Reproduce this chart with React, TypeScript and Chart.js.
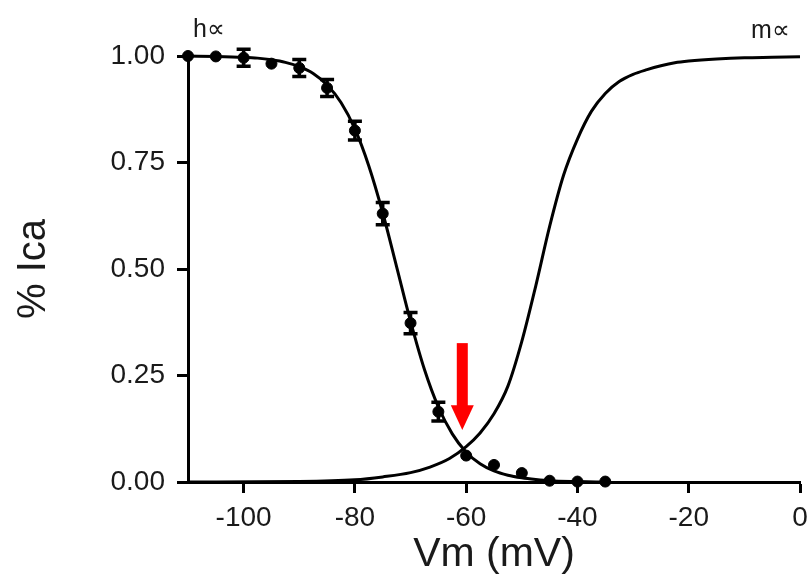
import React, { useEffect, useRef } from "react";
import { Chart, registerables } from "chart.js";

Chart.register(...registerables);

// Measured h∞ data points (Vm in mV, fraction of Ica, ± error)
const hPointV = [-110, -105, -100, -95, -90, -85, -80, -75, -70, -65, -60, -55, -50, -45, -40, -35];
const hPointY = [1.0, 0.999, 0.996, 0.982, 0.972, 0.925, 0.825, 0.63, 0.373, 0.165, 0.062, 0.04, 0.021, 0.003, 0.001, 0.001];
const hPointErr = [0, 0, 0.02, 0, 0.02, 0.02, 0.022, 0.026, 0.025, 0.022, 0, 0, 0, 0, 0, 0];

// h∞ fitted curve
const hCurveV = [-110, -105, -100, -97.5, -95, -92.5, -90, -87.5, -85, -82.5, -80, -77.5, -75, -72.5, -70, -67.5, -65, -62.5, -60, -57.5, -55, -52.5, -50, -47.5, -45, -40, -35];
const hCurveY = [1.0, 0.999, 0.997, 0.995, 0.991, 0.985, 0.975, 0.959, 0.932, 0.891, 0.829, 0.742, 0.632, 0.505, 0.377, 0.264, 0.176, 0.113, 0.07, 0.043, 0.026, 0.016, 0.01, 0.006, 0.003, 0.001, 0.0];

// m∞ curve
const mCurveV = [-110, -90, -80, -75, -70, -66.5, -63, -60, -57.5, -55, -52.5, -50, -47.5, -45, -42.5, -40, -37.5, -35, -32.5, -30, -27.5, -25, -22.5, -20, -15, -10, -5, 0];
const mCurveY = [0.0, 0.001, 0.005, 0.012, 0.022, 0.035, 0.055, 0.083, 0.115, 0.16, 0.225, 0.33, 0.46, 0.6, 0.72, 0.805, 0.87, 0.912, 0.94, 0.957, 0.968, 0.977, 0.984, 0.988, 0.993, 0.996, 0.997, 0.998];

// Axis ranges and ticks
const xMin = -110;
const xMax = 0;
const xStep = 20;
const yMin = 0;
const yMax = 1;
const yStep = 0.25;

// Annotations
const hLabel = "h\u221D";
const hLabelPos = [-109.1, 1.045];
const mLabel = "m\u221D";
const mLabelPos = [-8.8, 1.042];
const arrowX = -60.7;
const arrowTop = 0.326;
const arrowHeadBase = 0.18;
const arrowTip = 0.122;

const FONT = "'Liberation Sans', Arial, sans-serif";

export default function App() {
  const ref = useRef<HTMLCanvasElement | null>(null);

  useEffect(() => {
    if (!ref.current) return;

    const errorBars = {
      id: "errorBars",
      afterDatasetsDraw(chart: any) {
        const ctx = chart.ctx;
        const xs = chart.scales.x;
        const ys = chart.scales.y;
        ctx.save();
        ctx.strokeStyle = "#000";
        ctx.lineWidth = 3.5;
        hPointV.forEach((v, i) => {
          const e = hPointErr[i];
          if (!e) return;
          const px = xs.getPixelForValue(v);
          const y1 = ys.getPixelForValue(hPointY[i] + e);
          const y2 = ys.getPixelForValue(hPointY[i] - e);
          ctx.beginPath();
          ctx.moveTo(px, y1);
          ctx.lineTo(px, y2);
          ctx.moveTo(px - 7, y1);
          ctx.lineTo(px + 7, y1);
          ctx.moveTo(px - 7, y2);
          ctx.lineTo(px + 7, y2);
          ctx.stroke();
        });
        // labels
        ctx.fillStyle = "#1a1a1a";
        ctx.font = `25px ${FONT}`;
        ctx.textAlign = "left";
        ctx.textBaseline = "alphabetic";
        ctx.fillText(hLabel, xs.getPixelForValue(hLabelPos[0]), ys.getPixelForValue(hLabelPos[1]));
        ctx.fillText(mLabel, xs.getPixelForValue(mLabelPos[0]), ys.getPixelForValue(mLabelPos[1]));
        // red arrow
        const ax = xs.getPixelForValue(arrowX);
        const at = ys.getPixelForValue(arrowTop);
        const ab = ys.getPixelForValue(arrowHeadBase);
        const tip = ys.getPixelForValue(arrowTip);
        ctx.fillStyle = "#ff0000";
        ctx.fillRect(ax - 5.5, at, 11, ab - at + 1);
        ctx.beginPath();
        ctx.moveTo(ax - 11.5, ab);
        ctx.lineTo(ax + 11.5, ab);
        ctx.lineTo(ax, tip);
        ctx.closePath();
        ctx.fill();
        ctx.restore();
      },
    };

    const chart = new Chart(ref.current, {
      type: "scatter",
      data: {
        datasets: [
          {
            label: "h curve",
            data: hCurveV.map((v, i) => ({ x: v, y: hCurveY[i] })),
            showLine: true,
            borderColor: "#000",
            borderWidth: 3,
            pointRadius: 0,
            cubicInterpolationMode: "monotone",
            clip: false as any,
          },
          {
            label: "m curve",
            data: mCurveV.map((v, i) => ({ x: v, y: mCurveY[i] })),
            showLine: true,
            borderColor: "#000",
            borderWidth: 3,
            pointRadius: 0,
            cubicInterpolationMode: "monotone",
            clip: false as any,
          },
          {
            label: "h data",
            data: hPointV.map((v, i) => ({ x: v, y: hPointY[i] })),
            showLine: false,
            backgroundColor: "#000",
            borderColor: "#000",
            pointRadius: 5.5,
            clip: false as any,
          },
        ],
      },
      options: {
        animation: false,
        responsive: false,
        layout: { padding: { left: 0, top: 56, right: 11, bottom: 0 } },
        plugins: { legend: { display: false }, tooltip: { enabled: false } },
        scales: {
          x: {
            type: "linear",
            min: xMin,
            max: xMax,
            border: { display: true, color: "#000", width: 3 },
            grid: { drawOnChartArea: false, drawTicks: true, tickLength: 11, tickColor: "#000", tickWidth: 3 },
            ticks: {
              stepSize: xStep,
              includeBounds: false,
              padding: 8,
              color: "#1a1a1a",
              font: { family: FONT, size: 28 },
              maxRotation: 0,
            },
            title: {
              display: true,
              text: "Vm (mV)",
              color: "#1a1a1a",
              font: { family: FONT, size: 41 },
              padding: { top: 0, bottom: 2 },
            },
            afterFit: (s: any) => {
              s.height = 99;
              s.paddingLeft = 0;
              s.paddingRight = 0;
            },
          },
          y: {
            type: "linear",
            min: yMin,
            max: yMax,
            border: { display: true, color: "#000", width: 3 },
            grid: { drawOnChartArea: false, drawTicks: true, tickLength: 11, tickColor: "#000", tickWidth: 3 },
            ticks: {
              stepSize: yStep,
              padding: 12,
              color: "#1a1a1a",
              font: { family: FONT, size: 28 },
              callback: (v: any) => Number(v).toFixed(2),
            },
            title: {
              display: true,
              text: "% Ica",
              color: "#1a1a1a",
              font: { family: FONT, size: 40 },
              padding: { top: 10, bottom: 0 },
            },
            afterFit: (s: any) => {
              s.width = 188;
              s.paddingTop = 0;
              s.paddingBottom = 0;
            },
          },
        },
      },
      plugins: [errorBars],
    });

    return () => chart.destroy();
  }, []);

  return (
    <div style={{ position: "absolute", left: 0, top: 0, width: 811, height: 581, background: "#fff" }}>
      <canvas ref={ref} width={811} height={581} />
    </div>
  );
}
